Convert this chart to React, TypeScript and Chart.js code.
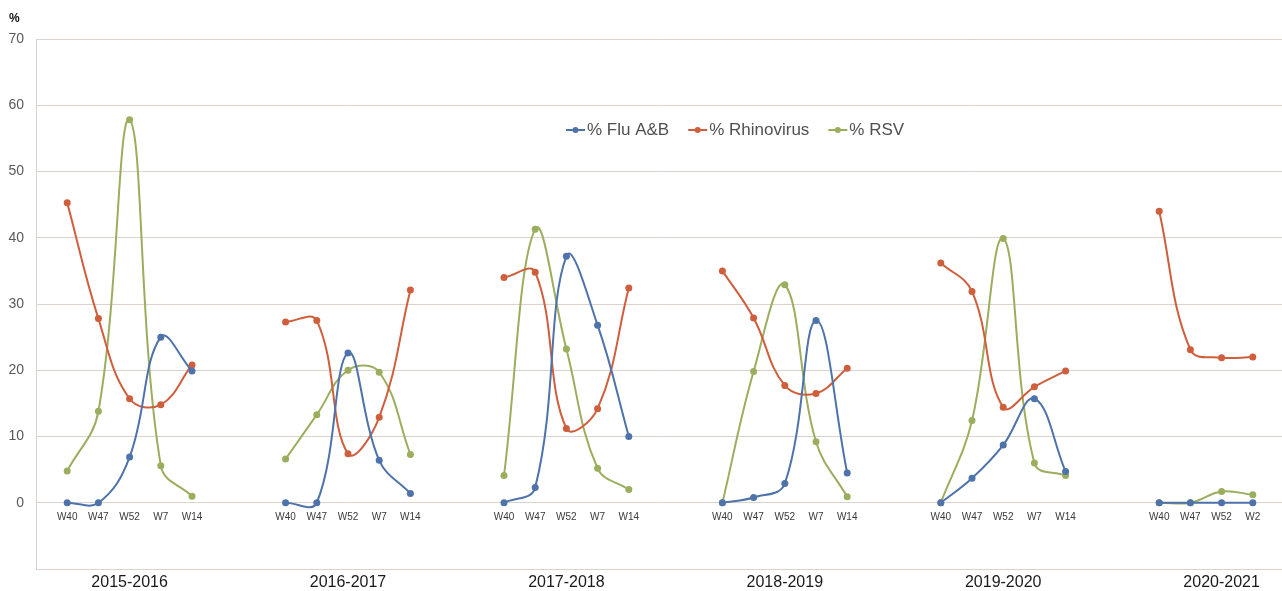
import React, { useEffect, useRef } from "react";
import { Chart, registerables } from "chart.js";

Chart.register(...registerables);

// ---- data ----
const seasons = ["2015-2016", "2016-2017", "2017-2018", "2018-2019", "2019-2020", "2020-2021"];
const weeks = [
  ["W40", "W47", "W52", "W7", "W14"],
  ["W40", "W47", "W52", "W7", "W14"],
  ["W40", "W47", "W52", "W7", "W14"],
  ["W40", "W47", "W52", "W7", "W14"],
  ["W40", "W47", "W52", "W7", "W14"],
  ["W40", "W47", "W52", "W2"],
];
const fluAB = [
  [0, 0, 6.9, 25.0, 19.9],
  [0, 0, 22.6, 6.4, 1.4],
  [0, 2.3, 37.2, 26.8, 10.0],
  [0, 0.8, 2.9, 27.5, 4.5],
  [0, 3.7, 8.7, 15.7, 4.7],
  [0, 0, 0, 0],
];
const rhinovirus = [
  [45.3, 27.8, 15.7, 14.8, 20.8],
  [27.3, 27.5, 7.4, 12.9, 32.1],
  [34.0, 34.8, 11.2, 14.2, 32.4],
  [35.0, 27.9, 17.7, 16.5, 20.3],
  [36.2, 31.9, 14.4, 17.5, 19.9],
  [44.0, 23.1, 21.9, 22.0],
];
const rsv = [
  [4.8, 13.8, 57.8, 5.6, 1.0],
  [6.6, 13.3, 20.0, 19.7, 7.3],
  [4.1, 41.3, 23.2, 5.2, 2.0],
  [0, 19.8, 32.9, 9.2, 0.9],
  [0, 12.4, 39.9, 6.0, 4.1],
  [0, 0, 1.7, 1.2],
];
const seriesNames = ["% Flu A&B", "% Rhinovirus", "% RSV"];
const yTickValues = [0, 10, 20, 30, 40, 50, 60, 70];

// ---- layout of the category axis (slots per season incl. gaps) ----
const SLOTS = 7;
const TOTAL = SLOTS * seasons.length - 1; // 41 categories

const labels: string[] = [];
const weekLabels: string[] = [];
for (let i = 0; i < TOTAL; i++) {
  labels.push("");
  weekLabels.push("");
}
seasons.forEach((s, k) => {
  labels[SLOTS * k + 3] = s;
  weeks[k].forEach((w, j) => {
    weekLabels[SLOTS * k + 1 + j] = w;
  });
});

function spread(values: number[][]): (number | null)[] {
  const out: (number | null)[] = [];
  for (let i = 0; i < TOTAL; i++) out.push(null);
  values.forEach((vals, k) => {
    vals.forEach((v, j) => {
      out[SLOTS * k + 1 + j] = v;
    });
  });
  return out;
}

const COLORS = ["#4E72AA", "#CF5F3C", "#9BAE5E"];
const GRID = "#D9D2CF";
const FONT = "'Liberation Sans', Arial, sans-serif";

const weekLabelPlugin = {
  id: "weekLabels",
  afterDatasetsDraw(chart: any) {
    const { ctx, scales } = chart;
    const x = scales.x;
    const y = scales.y;
    const y0 = y.getPixelForValue(0) + 14;
    ctx.save();
    ctx.font = `10px ${FONT}`;
    ctx.fillStyle = "#3a3a3a";
    ctx.textAlign = "center";
    ctx.textBaseline = "middle";
    weekLabels.forEach((w, i) => {
      if (w) ctx.fillText(w, x.getPixelForValue(i), y0);
    });
    ctx.restore();
  },
};

const legendPlugin = {
  id: "innerLegend",
  afterDraw(chart: any) {
    const { ctx } = chart;
    ctx.save();
    ctx.font = `17px ${FONT}`;
    ctx.textBaseline = "middle";
    const yc = 130;
    let x = 566;
    seriesNames.forEach((name, i) => {
      ctx.strokeStyle = COLORS[i];
      ctx.lineWidth = 2;
      ctx.beginPath();
      ctx.moveTo(x, yc);
      ctx.lineTo(x + 19, yc);
      ctx.stroke();
      ctx.fillStyle = COLORS[i];
      ctx.beginPath();
      ctx.arc(x + 9.5, yc, 3, 0, Math.PI * 2);
      ctx.fill();
      ctx.fillStyle = "#505050";
      ctx.textAlign = "left";
      ctx.fillText(name, x + 21, yc);
      x += 21 + ctx.measureText(name).width + 19;
    });
    ctx.restore();
  },
};

const unitPlugin = {
  id: "unitLabel",
  afterDraw(chart: any) {
    const { ctx } = chart;
    ctx.save();
    ctx.font = `bold 12px ${FONT}`;
    ctx.fillStyle = "#111";
    ctx.textAlign = "left";
    ctx.textBaseline = "middle";
    ctx.fillText("%", 9, 19);
    ctx.restore();
  },
};

export default function App() {
  const ref = useRef<HTMLCanvasElement | null>(null);

  useEffect(() => {
    if (!ref.current) return;
    const allSeries = [fluAB, rhinovirus, rsv];
    const chart = new Chart(ref.current, {
      type: "line",
      data: {
        labels,
        datasets: allSeries.map((s, i) => ({
          label: seriesNames[i],
          data: spread(s),
          borderColor: COLORS[i],
          backgroundColor: COLORS[i],
          borderWidth: 2,
          pointRadius: 3.5,
          pointBorderWidth: 0,
          pointBackgroundColor: COLORS[i],
          tension: 0.4,
          spanGaps: false,
          fill: false,
        })),
      },
      options: {
        responsive: false,
        animation: false,
        layout: { padding: { top: 39, right: 0, left: 0, bottom: 0 } },
        plugins: {
          legend: { display: false },
          tooltip: { enabled: false },
        },
        scales: {
          x: {
            type: "category",
            offset: false,
            grid: { drawOnChartArea: false, drawTicks: false },
            border: { display: true, color: GRID, width: 1 },
            ticks: {
              autoSkip: false,
              maxRotation: 0,
              padding: 4,
              color: "#1a1a1a",
              font: { family: FONT, size: 16 },
            },
            afterFit(scale: any) {
              scale.height = 22;
            },
          },
          y: {
            min: -10,
            max: 70,
            grid: { color: GRID, drawTicks: false, lineWidth: 1 },
            border: { display: true, color: GRID, width: 1 },
            afterBuildTicks(scale: any) {
              scale.ticks = [-10, ...yTickValues].map((v) => ({ value: v }));
            },
            ticks: {
              padding: 12,
              color: "#595959",
              font: { family: FONT, size: 14 },
              callback: (v: any) => (yTickValues.includes(Number(v)) ? String(v) : ""),
            },
            afterFit(scale: any) {
              scale.width = 36;
            },
          },
        },
      },
      plugins: [weekLabelPlugin, legendPlugin, unitPlugin],
    });
    return () => chart.destroy();
  }, []);

  return (
    <div
      style={{
        position: "absolute",
        left: 0,
        top: 0,
        width: 1282,
        height: 591,
        overflow: "hidden",
        background: "#fff",
      }}
    >
      <canvas ref={ref} width={1288} height={591} style={{ display: "block" }} />
    </div>
  );
}
